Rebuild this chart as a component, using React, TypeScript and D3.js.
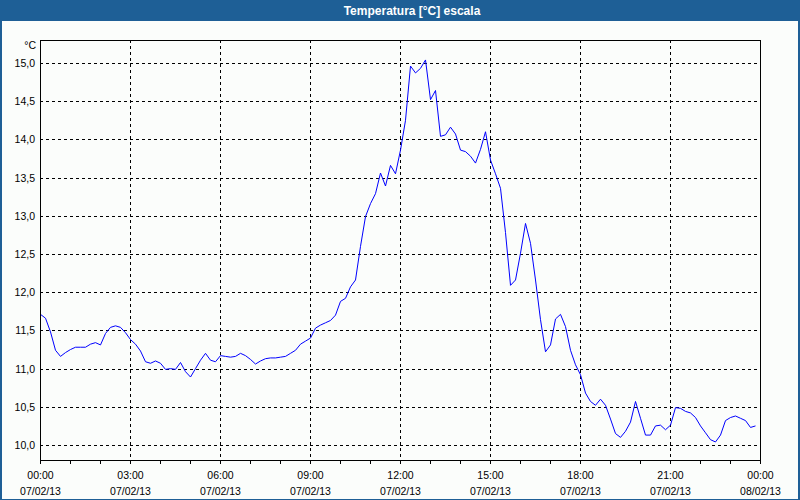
import React, { useEffect } from "react";
import * as d3 from "d3";

const TITLE = "Temperatura [°C] escala";
const UNIT = "°C";

// minutes since 07/02/13 00:00, one reading every 10 minutes
const MINUTES: number[] = d3.range(0, 1440, 10);

const TEMPS: number[] = [
  11.71, 11.66, 11.48, 11.24, 11.16, 11.21, 11.25, 11.28, 11.28, 11.28,
  11.32, 11.34, 11.31, 11.46, 11.54, 11.56, 11.54, 11.47, 11.38, 11.32,
  11.23, 11.09, 11.07, 11.10, 11.07, 10.99, 11.00, 10.99, 11.08, 10.96,
  10.89, 11.00, 11.11, 11.20, 11.11, 11.09, 11.17, 11.16, 11.15, 11.16,
  11.20, 11.17, 11.12, 11.06, 11.10, 11.13, 11.14, 11.14, 11.15, 11.16,
  11.20, 11.24, 11.32, 11.36, 11.40, 11.53, 11.57, 11.60, 11.63, 11.70,
  11.88, 11.92, 12.07, 12.16, 12.60, 12.99, 13.16, 13.29, 13.56, 13.39,
  13.66, 13.55, 13.86, 14.25, 14.96, 14.87, 14.93, 15.04, 14.52, 14.64,
  14.04, 14.06, 14.16, 14.07, 13.86, 13.84, 13.78, 13.69, 13.87, 14.10,
  13.73, 13.55, 13.36, 12.78, 12.09, 12.16, 12.51, 12.90, 12.64, 12.16,
  11.64, 11.22, 11.31, 11.65, 11.71, 11.55, 11.24, 11.05, 10.92, 10.68,
  10.57, 10.52, 10.60, 10.52, 10.34, 10.15, 10.10, 10.18, 10.30, 10.57,
  10.35, 10.13, 10.13, 10.25, 10.26, 10.20, 10.26, 10.49, 10.48, 10.44,
  10.42, 10.36, 10.25, 10.16, 10.07, 10.04, 10.13, 10.32, 10.36, 10.38,
  10.35, 10.32, 10.23, 10.25,
];

const X_TICK_MINUTES = [0, 180, 360, 540, 720, 900, 1080, 1260, 1440];
const X_TICK_TIMES = ["00:00", "03:00", "06:00", "09:00", "12:00", "15:00", "18:00", "21:00", "00:00"];
const X_TICK_DATES = ["07/02/13", "07/02/13", "07/02/13", "07/02/13", "07/02/13", "07/02/13", "07/02/13", "07/02/13", "08/02/13"];
const X_MINOR_MINUTES = d3.range(0, 1441, 60);
const Y_TICKS = [10, 10.5, 11, 11.5, 12, 12.5, 13, 13.5, 14, 14.5, 15];

const W = 800;
const H = 500;
const L = 40;
const R = 760;
const T = 40;
const B = 460;
const FONT = "'Liberation Sans', Arial, sans-serif";

export default function App() {
  useEffect(() => {
    document.body.style.margin = "0";
  }, []);

  const x = d3.scaleLinear().domain([0, 1440]).range([L, R]);
  const y = d3.scaleLinear().domain([9.804, 15.301]).range([B, T]);

  const line = d3
    .line<number>()
    .x((_, i) => x(MINUTES[i]) + 0.5)
    .y((d) => y(d));

  const fmt = (v: number) => v.toFixed(1).replace(".", ",");

  return (
    <svg
      width={W}
      height={H}
      style={{ position: "absolute", left: 0, top: 0, display: "block" }}
    >
      <rect x={0} y={0} width={W} height={H} fill="#fbfdfb" />
      {/* title bar */}
      <rect x={0} y={0} width={W} height={21} fill="#1e5f96" />
      <text
        x={412}
        y={14.5}
        textAnchor="middle"
        fill="#ffffff"
        fontFamily={FONT}
        fontWeight="bold"
        fontSize={12}
      >
        {TITLE}
      </text>
      {/* window border */}
      <rect x={0} y={20} width={2} height={H - 20} fill="#1e5f96" />
      <rect x={W - 2} y={20} width={2} height={H - 20} fill="#1e5f96" />
      <rect x={0} y={H - 1} width={W} height={1} fill="#1e5f96" />

      {/* grid */}
      <g stroke="#000" strokeWidth={1} strokeDasharray="3,3" shapeRendering="crispEdges">
        {Y_TICKS.map((v) => (
          <line key={"gy" + v} x1={L} x2={R} y1={Math.round(y(v)) + 0.5} y2={Math.round(y(v)) + 0.5} />
        ))}
        {X_TICK_MINUTES.slice(1, -1).map((m) => (
          <line key={"gx" + m} x1={Math.round(x(m)) + 0.5} x2={Math.round(x(m)) + 0.5} y1={T} y2={B} />
        ))}
      </g>

      {/* data line */}
      <path d={line(TEMPS) || ""} fill="none" stroke="#0000ff" strokeWidth={1} />

      {/* frame */}
      <rect
        x={L + 0.5}
        y={T + 0.5}
        width={R - L}
        height={B - T}
        fill="none"
        stroke="#000"
        strokeWidth={1}
        shapeRendering="crispEdges"
      />

      {/* x minor ticks */}
      <g stroke="#000" strokeWidth={1} shapeRendering="crispEdges">
        {X_MINOR_MINUTES.map((m) => (
          <line key={"t" + m} x1={Math.round(x(m)) + 0.5} x2={Math.round(x(m)) + 0.5} y1={B} y2={B + 4} />
        ))}
      </g>

      {/* x labels */}
      <g fontFamily={FONT} fontSize={10.5} fill="#000" textAnchor="middle">
        {X_TICK_MINUTES.map((m, i) => (
          <g key={"xl" + i}>
            <text x={x(m) + 0.5} y={479}>{X_TICK_TIMES[i]}</text>
            <text x={x(m) + 0.5} y={495}>{X_TICK_DATES[i]}</text>
          </g>
        ))}
      </g>

      {/* y labels */}
      <g fontFamily={FONT} fontSize={10.5} fill="#000" textAnchor="end">
        {Y_TICKS.map((v) => (
          <text key={"yl" + v} x={35} y={y(v) + 4}>
            {fmt(v)}
          </text>
        ))}
        <text x={36} y={49}>{UNIT}</text>
      </g>
    </svg>
  );
}
